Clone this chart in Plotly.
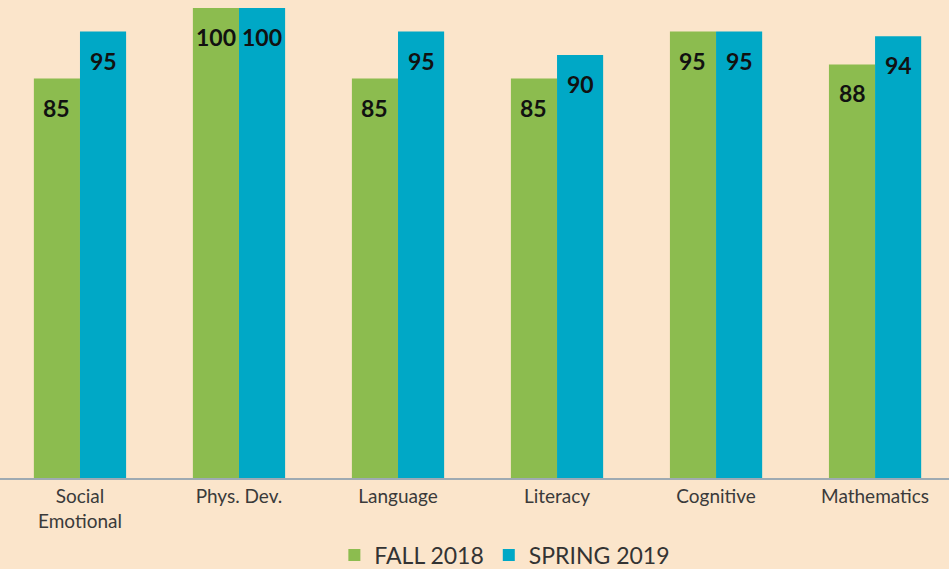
import plotly.graph_objects as go

categories = ["Social<br>Emotional", "Phys. Dev.", "Language", "Literacy", "Cognitive", "Mathematics"]
fall_2018 = [85, 100, 85, 85, 95, 88]
spring_2019 = [95, 100, 95, 90, 95, 94]
series_names = ["FALL 2018", "SPRING 2019"]

GREEN = "#8CBC4F"
BLUE = "#00A8C6"
BG = "#FBE5CB"
BARGAP = 0.42

fig = go.Figure()
fig.add_trace(go.Bar(name=series_names[0], x=categories, y=fall_2018, marker_color=GREEN,
                     marker_line_width=0))
fig.add_trace(go.Bar(name=series_names[1], x=categories, y=spring_2019, marker_color=BLUE,
                     marker_line_width=0))

half = (1 - BARGAP) / 4
annotations = []
for i, (a, b) in enumerate(zip(fall_2018, spring_2019)):
    for off, v in ((-half, a), (half, b)):
        annotations.append(dict(x=i + off, y=v, xref="x", yref="y", text=f"<b>{v}</b>",
                                showarrow=False, yanchor="top", yshift=-13,
                                font=dict(family="Lato", size=23, color="#111111")))

fig.update_layout(
    width=949, height=569,
    paper_bgcolor=BG, plot_bgcolor=BG,
    barmode="group", bargap=BARGAP, bargroupgap=0,
    margin=dict(l=0, r=0, t=8, b=91, autoexpand=False),
    showlegend=True,
    legend=dict(orientation="h", x=0.532, xanchor="center", y=-0.164, yanchor="middle",
                font=dict(family="Lato", size=23, color="#333333"), itemwidth=30,
                traceorder="normal"),
    annotations=annotations,
)
fig.update_xaxes(range=[-0.503, 5.465], showline=True, linecolor="#9EAAB2", linewidth=2,
                 automargin=False,
                 tickfont=dict(family="Lato", size=19, color="#3A3A3A"), ticks="")
fig.update_yaxes(range=[0, 100], visible=False, showgrid=False)

fig.write_html("out.html", config={"displayModeBar": False},
               post_script="document.body.style.margin='0';")
